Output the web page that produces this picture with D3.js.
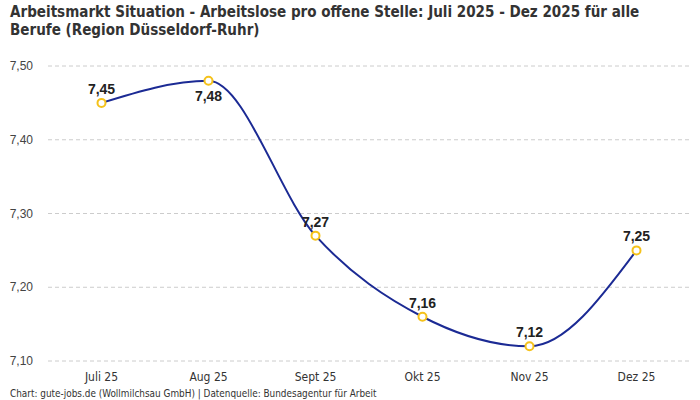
<!DOCTYPE html>
<meta charset="utf-8">
<style>
  body { margin: 0; background: #fff; }
</style>
<body>
<script src="https://d3js.org/d3.v7.min.js"></script>
<script>
// data
var months = ['Juli 25', 'Aug 25', 'Sept 25', 'Okt 25', 'Nov 25', 'Dez 25'];
var values = [7.45, 7.48, 7.27, 7.16, 7.12, 7.25];
var yTicks = [7.10, 7.20, 7.30, 7.40, 7.50];
var labelBelow = [false, true, false, false, false, false];

var W = 700, H = 400;
var fmt = v => d3.format('.2f')(v).replace('.', ',');
var condensed = '"Liberation Sans Narrow", "DejaVu Sans Condensed", sans-serif';

var svg = d3.select('body').append('svg')
    .attr('width', W)
    .attr('height', H);

// squeeze a group sideways so its widest line matches the reference width
// (the original uses a condensed face we don't have)
var squeeze = (g, x0, maxW) => {
  var w = d3.max(g.selectAll('text').nodes(), n => n.getComputedTextLength());
  var sx = Math.min(1, maxW / w);
  g.attr('transform', `translate(${x0},0) scale(${sx},1)`);
};

// title
var tg = svg.append('g');
tg.append('text').attr('y', 17)
    .text('Arbeitsmarkt Situation - Arbeitslose pro offene Stelle: Juli 2025 - Dez 2025 für alle');
tg.append('text').attr('y', 35)
    .text('Berufe (Region Düsseldorf-Ruhr)');
tg.selectAll('text')
    .attr('x', 0)
    .attr('font-family', condensed)
    .attr('font-weight', 'bold')
    .attr('font-size', 16)
    .attr('fill', '#333');
squeeze(tg, 10, 630);

var x = d3.scalePoint().domain(months).range([48, 690]).padding(0.5);
var y = d3.scaleLinear().domain([7.10, 7.50]).range([361, 66]);

// grid
svg.append('g').selectAll('line').data(yTicks).enter().append('line')
    .attr('x1', 48).attr('x2', 690)
    .attr('y1', d => y(d)).attr('y2', d => y(d))
    .attr('stroke', '#ccc')
    .attr('stroke-dasharray', '4,3');

// y axis labels
svg.append('g').selectAll('text').data(yTicks).enter().append('text')
    .attr('x', 33).attr('y', d => y(d) + 4)
    .attr('text-anchor', 'end')
    .attr('font-family', 'Liberation Sans, sans-serif')
    .attr('font-size', 12)
    .attr('fill', '#444')
    .text(fmt);

// x axis labels
svg.append('g').selectAll('text').data(months).enter().append('text')
    .attr('x', d => x(d)).attr('y', 381)
    .attr('text-anchor', 'middle')
    .attr('font-family', condensed)
    .attr('font-size', 12)
    .attr('fill', '#333')
    .text(d => d);

// footer
var fg = svg.append('g');
fg.append('text')
    .attr('x', 0).attr('y', 397)
    .attr('font-family', condensed)
    .attr('font-size', 11)
    .attr('fill', '#333')
    .text('Chart: gute-jobs.de (Wollmilchsau GmbH) | Datenquelle: Bundesagentur für Arbeit');
squeeze(fg, 10, 367);

// line
var line = d3.line()
    .x((d, i) => x(months[i]))
    .y(d => y(d))
    .curve(d3.curveMonotoneX);

svg.append('path')
    .datum(values)
    .attr('d', line)
    .attr('fill', 'none')
    .attr('stroke', '#1b2a94')
    .attr('stroke-width', 2);

// points
svg.append('g').selectAll('circle').data(values).enter().append('circle')
    .attr('cx', (d, i) => x(months[i]))
    .attr('cy', d => y(d))
    .attr('r', 4)
    .attr('fill', '#fff')
    .attr('stroke', '#f5c21b')
    .attr('stroke-width', 2);

// value labels
svg.append('g').selectAll('text').data(values).enter().append('text')
    .attr('x', (d, i) => x(months[i]))
    .attr('y', (d, i) => labelBelow[i] ? y(d) + 20 : y(d) - 9)
    .attr('text-anchor', 'middle')
    .attr('font-family', 'Liberation Sans, sans-serif')
    .attr('font-weight', 'bold')
    .attr('font-size', 14)
    .attr('fill', '#222')
    .text(fmt);
</script>
</body>
</html>
